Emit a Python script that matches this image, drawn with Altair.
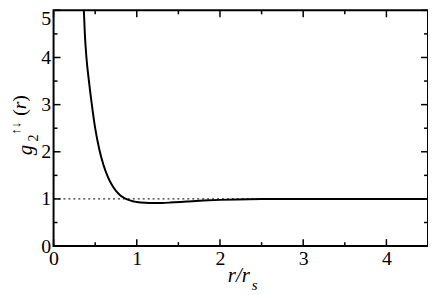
import altair as alt
import pandas as pd

# ---- data ----
r_vals = [0.364, 0.376, 0.395, 0.425, 0.46, 0.50, 0.55, 0.60, 0.65, 0.70, 0.75,
          0.80, 0.85, 0.90, 0.95, 1.0, 1.1, 1.2, 1.3, 1.4, 1.6, 1.8, 2.0, 2.2,
          2.5, 3.0, 3.5, 4.0, 4.5]
g_vals = [5.0, 4.5, 4.0, 3.5, 3.0, 2.5, 2.05, 1.72, 1.48, 1.3, 1.17,
          1.08, 1.02, 0.98, 0.95, 0.935, 0.918, 0.912, 0.915, 0.923, 0.945, 0.965, 0.98, 0.99,
          0.997, 1.0, 1.0, 1.0, 1.0]
ref_level = [1.0]
x_major = [0, 1, 2, 3, 4]
x_minor = [0.5, 1.5, 2.5, 3.5]
y_major = [0, 1, 2, 3, 4, 5]
y_minor = [0.5, 1.5, 2.5, 3.5, 4.5]
x_domain = [0, 4.5]
y_domain = [0, 5]

W, H = 378, 238
FONT = "Liberation Serif"

xs = alt.Scale(domain=x_domain, nice=False, zero=False)
ys = alt.Scale(domain=y_domain, nice=False, zero=False)
xaxis = alt.Axis(values=x_major, ticks=False, domain=False, grid=False, title=None,
                 labelFont=FONT, labelFontSize=20, labelColor="black", labelPadding=3,
                 labelFlush=False)
yaxis = alt.Axis(values=y_major, ticks=False, domain=False, grid=False, title=None,
                 labelFont=FONT, labelFontSize=20, labelColor="black", labelPadding=3,
                 labelFlush=False,
                 labelOffset={"condition": {"test": "datum.value == 5", "value": 8}, "value": 0})


def X(f):
    return alt.X(f, type="quantitative", scale=xs, axis=xaxis)


def Y(f):
    return alt.Y(f, type="quantitative", scale=ys, axis=yaxis)


curve_df = pd.DataFrame({"x": r_vals, "y": g_vals})
curve = alt.Chart(curve_df).mark_line(color="black", strokeWidth=2, clip=True,
                                      interpolate="monotone").encode(x=X("x"), y=Y("y"))

dotted = alt.Chart(pd.DataFrame({"y": ref_level})).mark_rule(
    color="#333333", strokeWidth=1.3, strokeDash=[2, 3]).encode(
    y=Y("y"), x=alt.value(0), x2=alt.value(W))

layers = [dotted]


def xticks(vals, length):
    df = pd.DataFrame({"x": vals})
    bot = alt.Chart(df).mark_rule(color="black", strokeWidth=1.5).encode(
        x=X("x"), y=alt.value(H), y2=alt.value(H - length))
    top = alt.Chart(df).mark_rule(color="black", strokeWidth=1.5).encode(
        x=X("x"), y=alt.value(0), y2=alt.value(length))
    return [bot, top]


def yticks(vals, length):
    df = pd.DataFrame({"y": vals})
    lft = alt.Chart(df).mark_rule(color="black", strokeWidth=1.5).encode(
        y=Y("y"), x=alt.value(0), x2=alt.value(length))
    rgt = alt.Chart(df).mark_rule(color="black", strokeWidth=1.5).encode(
        y=Y("y"), x=alt.value(W), x2=alt.value(W - length))
    return [lft, rgt]


layers += xticks(x_major, 7) + xticks(x_minor, 4) + yticks(y_major, 7) + yticks(y_minor, 4)
layers.append(curve)

one = pd.DataFrame({"k": [0]})


def label(txt, px, py, size, italic=False, angle=0):
    return alt.Chart(one).mark_text(
        text=txt, font=FONT, fontSize=size, fontStyle="italic" if italic else "normal",
        color="black", align="center", baseline="middle", angle=angle).encode(
        x=alt.value(px), y=alt.value(py))


# y-axis title: g_2^{↑↓}(r), rotated
layers += [
    label("g", -28, 141, 21, True, 270),
    label("2", -20, 129, 14, False, 270),
    label("↑↓", -38, 119, 13, False, 270),
    label("(", -34, 103, 20, False, 270),
    label("r", -34, 96, 20, True, 270),
    label(")", -34, 89, 20, False, 270),
]
# x-axis title: r/r_s
layers += [
    label("r/r", 187, 268, 21, True),
    label("s", 203, 277, 15, True),
]

chart = alt.layer(*layers).properties(
    width=W, height=H, background="white",
    padding={"left": 46, "top": 1, "right": 0, "bottom": 46},
    autosize=alt.AutoSizeParams(type="none"),
).configure_view(stroke="black", strokeWidth=2)

chart.save("out.html", embed_options={"renderer": "svg", "actions": False})
